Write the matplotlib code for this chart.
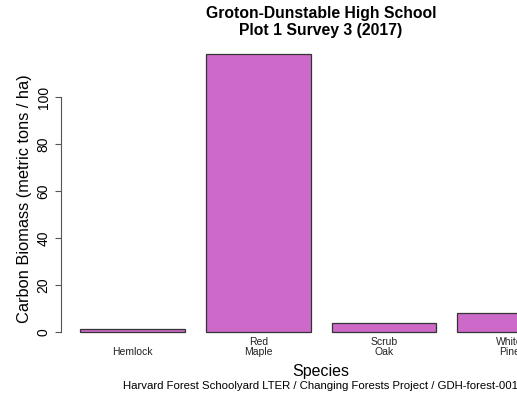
import matplotlib.pyplot as plt

plt.rcParams['font.family'] = ['Liberation Sans', 'DejaVu Sans']

species = ['Hemlock', 'Red\nMaple', 'Scrub\nOak', 'White\nPine']
biomass = [1.4, 118.3, 3.9, 8.0]
yticks = [0, 20, 40, 60, 80, 100]

# R barplot layout: width 1, space 0.2
centers = [0.7 + 1.2 * i for i in range(len(species))]

fig = plt.figure(figsize=(5.17, 3.97), dpi=100)
ax = fig.add_axes([0.118, 0.136, 1.006, 0.756])

ax.bar(centers, biomass, width=1.0, color='#CD69C9', edgecolor='#333333', linewidth=0.9)

ax.set_xlim(0.016, 4.984)
ax.set_ylim(-0.04 * max(biomass), 1.04 * max(biomass))

for s in ['top', 'right', 'bottom']:
    ax.spines[s].set_visible(False)
ax.spines['left'].set_bounds(0, 100)
ax.spines['left'].set_color('#555555')

ax.set_yticks(yticks)
ax.set_yticklabels([str(v) for v in yticks], rotation=90, va='center')
ax.tick_params(axis='y', length=4, pad=3.5, labelsize=10, color='#555555')
ax.set_xticks([])

for x, name in zip(centers, species):
    ax.text(x, -0.048, name, transform=ax.get_xaxis_transform(),
            ha='center', va='bottom', fontsize=7.5, color='#222222', linespacing=1.1)

ax.set_ylabel('Carbon Biomass (metric tons / ha)', fontsize=11.8)
ax.yaxis.set_label_coords(-0.056, 0.48)

ax.set_title('Groton-Dunstable High School\nPlot 1 Survey 3 (2017)',
             fontsize=11.3, fontweight='bold', linespacing=1.1, pad=6)

fig.text(0.621, 0.063, 'Species', ha='center', va='center', fontsize=11.5)
fig.text(0.62, 0.027, 'Harvard Forest Schoolyard LTER / Changing Forests Project / GDH-forest-001',
         ha='center', va='center', fontsize=8.2)

fig.savefig('out.png', dpi=100)
plt.close(fig)
